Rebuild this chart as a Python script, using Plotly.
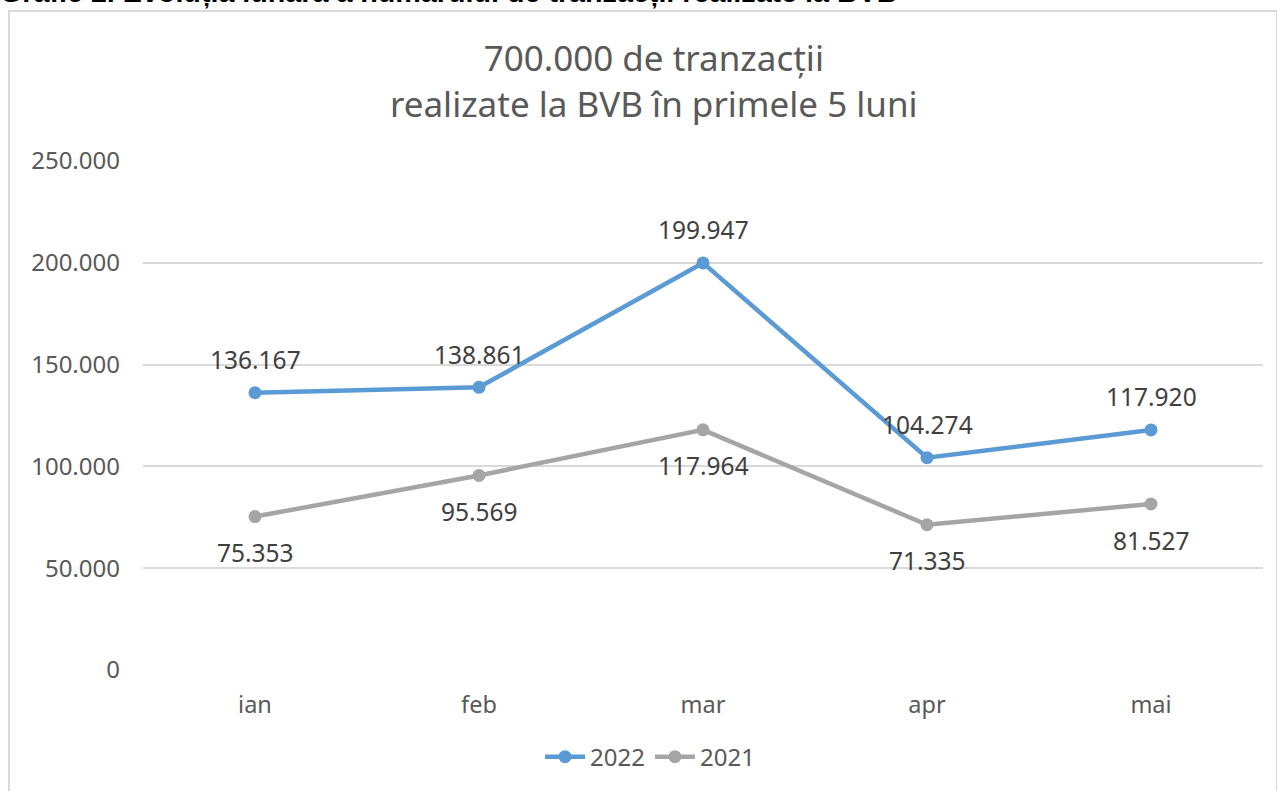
import plotly.graph_objects as go

months = ["ian", "feb", "mar", "apr", "mai"]
values_2022 = [136167, 138861, 199947, 104274, 117920]
values_2021 = [75353, 95569, 117964, 71335, 81527]
labels_2022 = ["136.167", "138.861", "199.947", "104.274", "117.920"]
labels_2021 = ["75.353", "95.569", "117.964", "71.335", "81.527"]
y_ticks = [0, 50000, 100000, 150000, 200000, 250000]
y_tick_labels = ["0", "50.000", "100.000", "150.000", "200.000", "250.000"]

BLUE = "#5b9bd5"
GREY = "#a5a5a5"
FONT = "Noto Sans"

fig = go.Figure()
fig.add_trace(go.Scatter(x=months, y=values_2022, name="2022", mode="lines+markers",
                         line=dict(color=BLUE, width=4.5), marker=dict(color=BLUE, size=13)))
fig.add_trace(go.Scatter(x=months, y=values_2021, name="2021", mode="lines+markers",
                         line=dict(color=GREY, width=4.5), marker=dict(color=GREY, size=13)))

for m, v, t in zip(months, values_2022, labels_2022):
    fig.add_annotation(x=m, y=v, text=t, showarrow=False, yshift=33,
                       font=dict(family=FONT, size=24.5, color="#404040"))
for m, v, t in zip(months, values_2021, labels_2021):
    fig.add_annotation(x=m, y=v, text=t, showarrow=False, yshift=-36,
                       font=dict(family=FONT, size=24.5, color="#404040"))

# clipped document heading above the chart frame
fig.add_annotation(xref="paper", yref="paper", x=-0.1295, y=1.3305, xanchor="left", yanchor="middle",
                   text="<b>Grafic 2. Evoluția lunară a numărului de tranzacții realizate la BVB</b>",
                   showarrow=False, font=dict(family="Liberation Sans", size=28.7, color="#000000"))

# chart frame
fig.add_shape(type="rect", xref="paper", yref="paper", x0=-0.1196, x1=1.0125, y0=-0.26, y1=1.2947,
              line=dict(color="#d9d9d9", width=2), fillcolor="rgba(0,0,0,0)", layer="below")

fig.update_layout(
    width=1277, height=791,
    margin=dict(l=143, r=14, t=161, b=121, autoexpand=False),
    paper_bgcolor="white", plot_bgcolor="white",
    font=dict(family=FONT, color="#595959"),
    title=dict(text="700.000 de tranzacții<br>realizate la BVB în primele 5 luni",
               x=0.512, xanchor="center", y=0.910, yanchor="middle",
               font=dict(family=FONT, size=35, color="#595959")),
    showlegend=True,
    legend=dict(orientation="h", x=0.4527, xanchor="center", y=-0.171, yanchor="middle",
                font=dict(family=FONT, size=24, color="#595959"), itemwidth=40),
)
fig.update_xaxes(showgrid=False, showline=False, zeroline=False, ticks="",
                 tickfont=dict(family=FONT, size=23.5, color="#595959"), ticklabelstandoff=18,
                 range=[-0.5, 4.5])
fig.update_yaxes(range=[0, 250000], tickvals=y_ticks, ticktext=y_tick_labels,
                 showgrid=True, gridcolor="#d9d9d9", gridwidth=1.5, zeroline=False, showline=False,
                 tickfont=dict(family=FONT, size=24, color="#595959"), ticklabelstandoff=22)

fig.write_html("out.html", config={"displayModeBar": False},
               post_script="document.body.style.margin='0';document.body.style.overflow='hidden';")
